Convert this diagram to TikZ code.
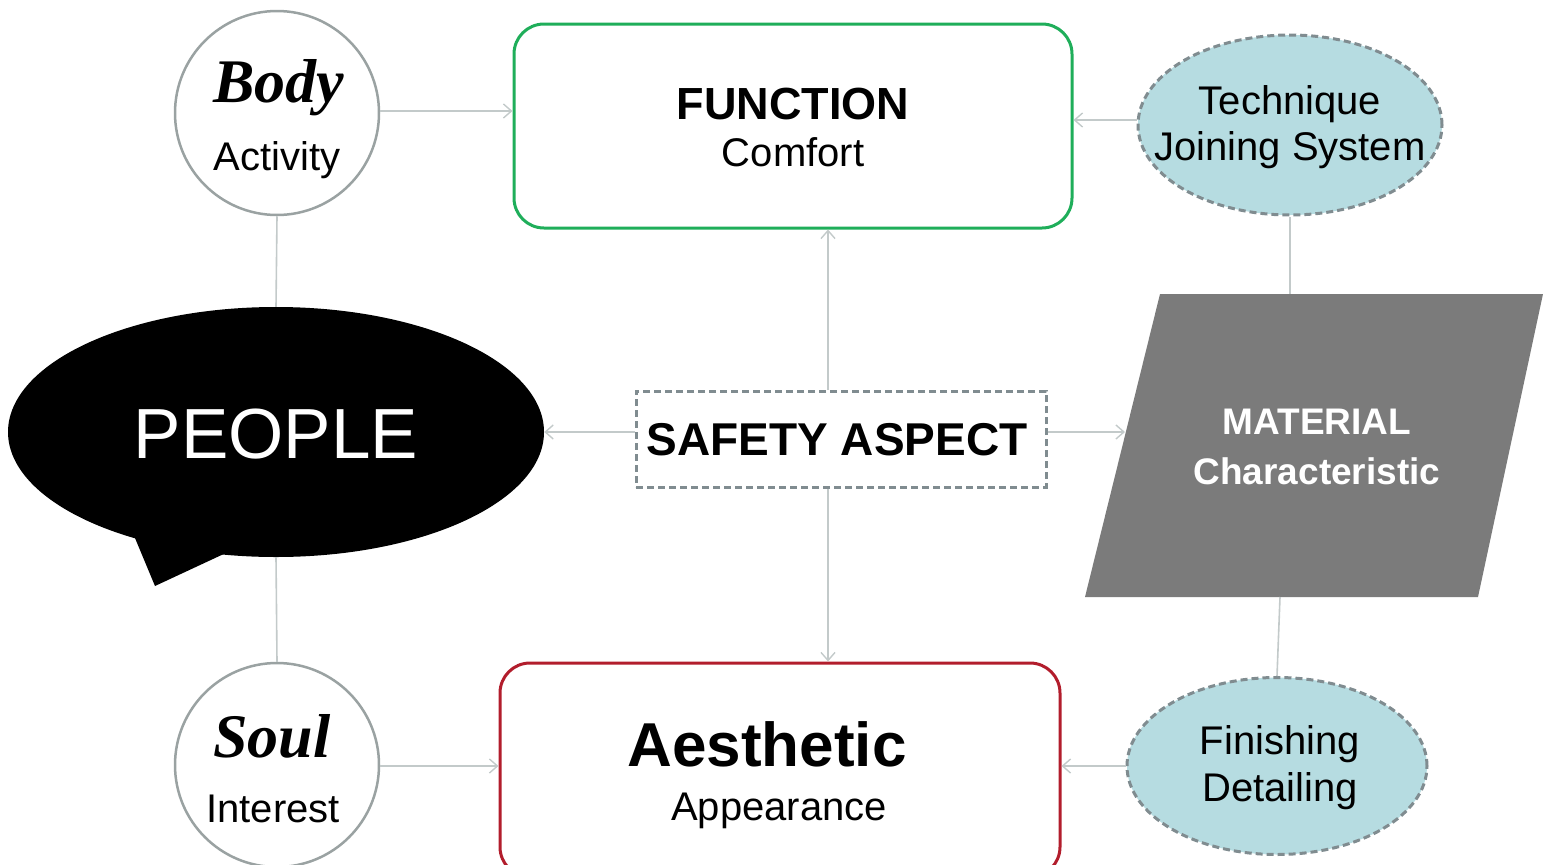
\documentclass[tikz,border=0pt]{standalone}
\usepackage{fontspec}
\setmainfont{Liberation Sans}
\newfontfamily\scriptish{Liberation Serif}
\usetikzlibrary{arrows.meta,shapes.geometric}
\definecolor{circgray}{HTML}{9AA2A2}
\definecolor{fgreen}{HTML}{1FAE5A}
\definecolor{ared}{HTML}{B21D2C}
\definecolor{lblue}{HTML}{B6DCE1}
\definecolor{dashgray}{HTML}{808C90}
\definecolor{conn}{HTML}{C3CACA}
\definecolor{matgray}{HTML}{7B7B7B}
\tikzset{
  fs/.style={font=\fontsize{#1}{#1}\selectfont},
  fsb/.style={font=\fontsize{#1}{#1}\selectfont\bfseries},
  scr/.style={font=\fontsize{#1}{#1}\selectfont\scriptish\bfseries\itshape},
  ring/.style={circle, draw=circgray, line width=2.5pt, fill=white, minimum size=204pt, inner sep=0pt},
  bigbox/.style={rounded corners=30pt, line width=3pt, fill=white, inner sep=0pt},
  oval/.style={ellipse, draw=dashgray, dashed, dash pattern=on 7pt off 4pt, line width=3pt, fill=lblue, inner sep=0pt},
  link/.style={draw=conn, line width=1.6pt},
  arr/.style={link, -{Straight Barb[length=8pt,width=14pt,line width=1.4pt]}},
  txt/.style={inner sep=0pt, anchor=base},
}
\begin{document}
\begin{tikzpicture}[x=1pt,y=-1pt]
\useasboundingbox (0,0) rectangle (1543,865);
% shapes
\node[ring] (body) at (277,113) {};
\node[ring] (soul) at (277,765) {};
\node[bigbox, draw=fgreen, minimum width=558pt, minimum height=204pt] (func) at (793,126) {};
\node[bigbox, draw=ared, minimum width=560pt, minimum height=214pt] (aest) at (780,770) {};
\node[oval, minimum width=304pt, minimum height=180pt] (tech) at (1290,125) {};
\node[oval, minimum width=300pt, minimum height=177pt] (fin) at (1277,766) {};
\node[draw=dashgray, dashed, dash pattern=on 7pt off 4pt, line width=3pt, minimum width=410pt, minimum height=96pt, inner sep=0pt] (safe) at (841,439) {};
% people bubble
\fill[black] (135,538) -- (155,586) -- (228,552) -- cycle;
\node[ellipse, fill=black, minimum width=536pt, minimum height=250pt, inner sep=0pt] (people) at (276,432) {};
% material parallelogram
\fill[matgray] (1160,294) -- (1543,294) -- (1478,597) -- (1085,597) -- cycle;
\coordinate (matTop) at (1290,294);
\coordinate (matBot) at (1280,597);
\coordinate (matLeft) at (1125,432);
% texts
\node[txt, scr=62] (tbody) at (279,102) {Body};
\node[txt, fs=40] (tact) at (277,170) {Activity};
\node[txt, scr=62] (tsoul) at (272,757) {Soul};
\node[txt, fs=40] (tint) at (273,822) {Interest};
\node[txt, fsb=45] (tfunc) at (793,119) {FUNCTION};
\node[txt, fs=40] (tcomf) at (793,166) {Comfort};
\node[txt, fsb=62] (taest) at (767,766) {Aesthetic};
\node[txt, fs=40] (tapp) at (779,820) {Appearance};
\node[txt, fs=40] (ttech) at (1290,114) {Technique};
\node[txt, fs=40] (tjoin) at (1290,160) {Joining System};
\node[txt, fs=40] (tfin) at (1280,754) {Finishing};
\node[txt, fs=40] (tdet) at (1280,801) {Detailing};
\node[txt, fs=71, text=white] (tpeople) at (276,458) {PEOPLE};
\node[txt, fsb=46] (tsafe) at (837,455) {SAFETY ASPECT};
\node[txt, fsb=37, text=white] (tmat) at (1317,434) {MATERIAL};
\node[txt, fsb=37, text=white] (tchar) at (1317,484) {Characteristic};
% connectors
\draw[arr] (body.east |- 0,111) -- (func.west |- 0,111);
\draw[link] (body.south) -- (people.north);
\draw[link] (people.south) -- (soul.north);
\draw[arr] (soul.east |- 0,766) -- (aest.west |- 0,766);
\draw[arr] (safe.north -| 828,0) -- (func.south -| 828,0);
\draw[arr] (safe.south -| 828,0) -- (aest.north -| 828,0);
\draw[arr] (safe.west |- 0,432) -- (people.east |- 0,432);
\draw[arr] (safe.east |- 0,432) -- (matLeft);
\draw[arr] (tech.west |- 0,120) -- (func.east |- 0,120);
\draw[link] (tech.south) -- (matTop);
\draw[link] (matBot) -- (fin.north);
\draw[arr] (fin.west |- 0,766) -- (aest.east |- 0,766);
\end{tikzpicture}
\end{document}
